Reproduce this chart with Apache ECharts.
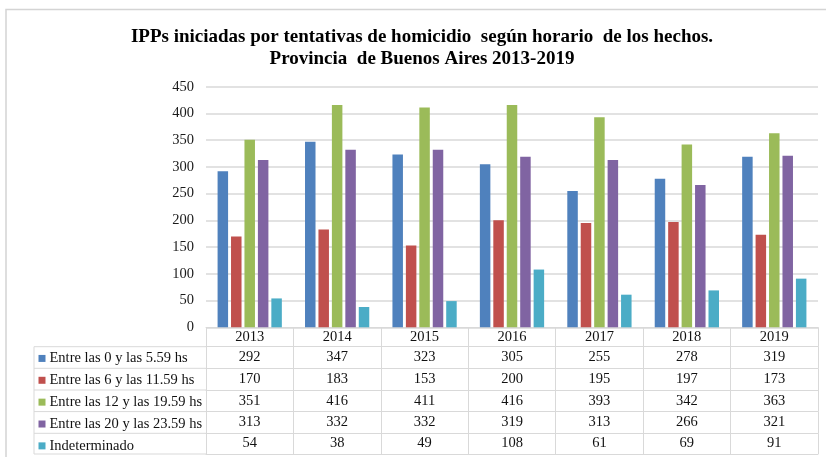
<!DOCTYPE html>
<html><head><meta charset="utf-8">
<script src="https://cdn.jsdelivr.net/npm/echarts@6/dist/echarts.min.js"></script>
<style>html,body{margin:0;padding:0;background:#fff}#c{width:826px;height:457px}</style>
</head><body><div id="c"></div>
<script>
const years = ['2013','2014','2015','2016','2017','2018','2019'];
const seriesNames = ['Entre las 0 y las 5.59 hs','Entre las 6 y las 11.59 hs','Entre las 12 y las 19.59 hs','Entre las 20 y las 23.59 hs','Indeterminado'];
const hs0a6 = [292,347,323,305,255,278,319];
const hs6a12 = [170,183,153,200,195,197,173];
const hs12a20 = [351,416,411,416,393,342,363];
const hs20a24 = [313,332,332,319,313,266,321];
const indeterminado = [54,38,49,108,61,69,91];
const yMin = 0, yMax = 450, yStep = 50;
const titleLines = ['IPPs iniciadas por tentativas de homicidio  según horario  de los hechos.', 'Provincia  de Buenos Aires 2013-2019'];

const values = [hs0a6, hs6a12, hs12a20, hs20a24, indeterminado];
const colors = ['#4F81BD','#C0504D','#9BBB59','#8064A2','#4BACC6'];
const FONT = 'Liberation Serif';
const lineColor = '#d9d9d9';

// layout
const gridLeft = 206, gridRight = 8, gridTop = 86.7, gridBottomY = 327.3;
const rowOffsets = [0, 19.4, 41, 62.7, 84.3, 106, 126.7];
const tableLeft = 34;
const titleCenter = 422;
const titlePad = 5;

const xAxes = [];
for (let k = 0; k < 6; k++) {
  const h = rowOffsets[k+1] - rowOffsets[k];
  xAxes.push({
    type: 'category', data: years, position: 'bottom', offset: rowOffsets[k],
    axisLine: {show: true, lineStyle: {color: lineColor, width: 1}},
    axisTick: {show: true, length: h, interval: 0, lineStyle: {color: lineColor, width: 1}},
    axisLabel: {
      interval: 0, margin: h / 2, verticalAlign: 'middle',
      fontFamily: FONT, fontSize: 14.5, color: '#111',
      formatter: k === 0 ? (v) => v : ((vv) => (v, i) => String(vv[i]))(values[k-1])
    },
    splitLine: {show: false}
  });
}
xAxes.push({
  type: 'category', data: years, position: 'bottom', offset: rowOffsets[6],
  axisLine: {show: true, lineStyle: {color: lineColor, width: 1}},
  axisTick: {show: false}, axisLabel: {show: false}, splitLine: {show: false}
});

const series = seriesNames.map((n, i) => ({
  name: n, type: 'bar', xAxisIndex: 0, yAxisIndex: 0,
  data: values[i], barWidth: 10.5, barGap: '28%',
  itemStyle: {color: colors[i]}, animation: false
}));

const graphics = [
  {type: 'rect', shape: {x: 6, y: 9.5, width: 840, height: 470}, style: {fill: 'none', stroke: '#d4d4d4', lineWidth: 1.5}, silent: true}
];
for (let k = 1; k <= 6; k++) {
  const y = gridBottomY + rowOffsets[k];
  graphics.push({type: 'line', shape: {x1: tableLeft, y1: y, x2: gridLeft, y2: y}, style: {stroke: lineColor, lineWidth: 1}, silent: true});
}
graphics.push({type: 'line', shape: {x1: tableLeft, y1: gridBottomY + rowOffsets[1], x2: tableLeft, y2: gridBottomY + rowOffsets[6]}, style: {stroke: lineColor, lineWidth: 1}, silent: true});

// measure title line widths to center them at titleCenter
const titleFont = 'bold 19px "' + FONT + '"';
const titles = titleLines.map((t, i) => {
  const w = echarts.format.getTextRect ? echarts.format.getTextRect(t, titleFont).width : 0;
  return {
    text: t, left: titleCenter - w / 2 - titlePad, top: 21 + i * 22, padding: titlePad,
    textStyle: {fontFamily: FONT, fontWeight: 'bold', fontSize: 19, lineHeight: 22, color: '#000'}
  };
});

const rowH = (rowOffsets[6] - rowOffsets[1]) / 5;
const chart = echarts.init(document.getElementById('c'), null, {renderer: 'canvas'});
chart.setOption({
  animation: false,
  backgroundColor: '#fff',
  title: titles,
  legend: {
    orient: 'vertical', left: 38.5, top: gridBottomY + rowOffsets[1] + (rowH - 14) / 2 + 0.5, padding: 0,
    itemGap: rowH - 14 - 0.6, itemWidth: 7, itemHeight: 7, icon: 'rect', selectedMode: false,
    data: seriesNames,
    textStyle: {fontFamily: FONT, fontSize: 14.5, lineHeight: 14, color: '#111', padding: [0, 0, 0, -1]}
  },
  grid: {left: gridLeft, right: gridRight, top: gridTop, bottom: 457 - gridBottomY, containLabel: false},
  xAxis: xAxes,
  yAxis: {
    type: 'value', min: yMin, max: yMax, interval: yStep,
    axisLine: {show: false}, axisTick: {show: false},
    axisLabel: {fontFamily: FONT, fontSize: 14.5, color: '#1a1a1a', margin: 12},
    splitLine: {lineStyle: {color: lineColor, width: 1.5}}
  },
  series: series,
  graphic: graphics
});
</script></body></html>
